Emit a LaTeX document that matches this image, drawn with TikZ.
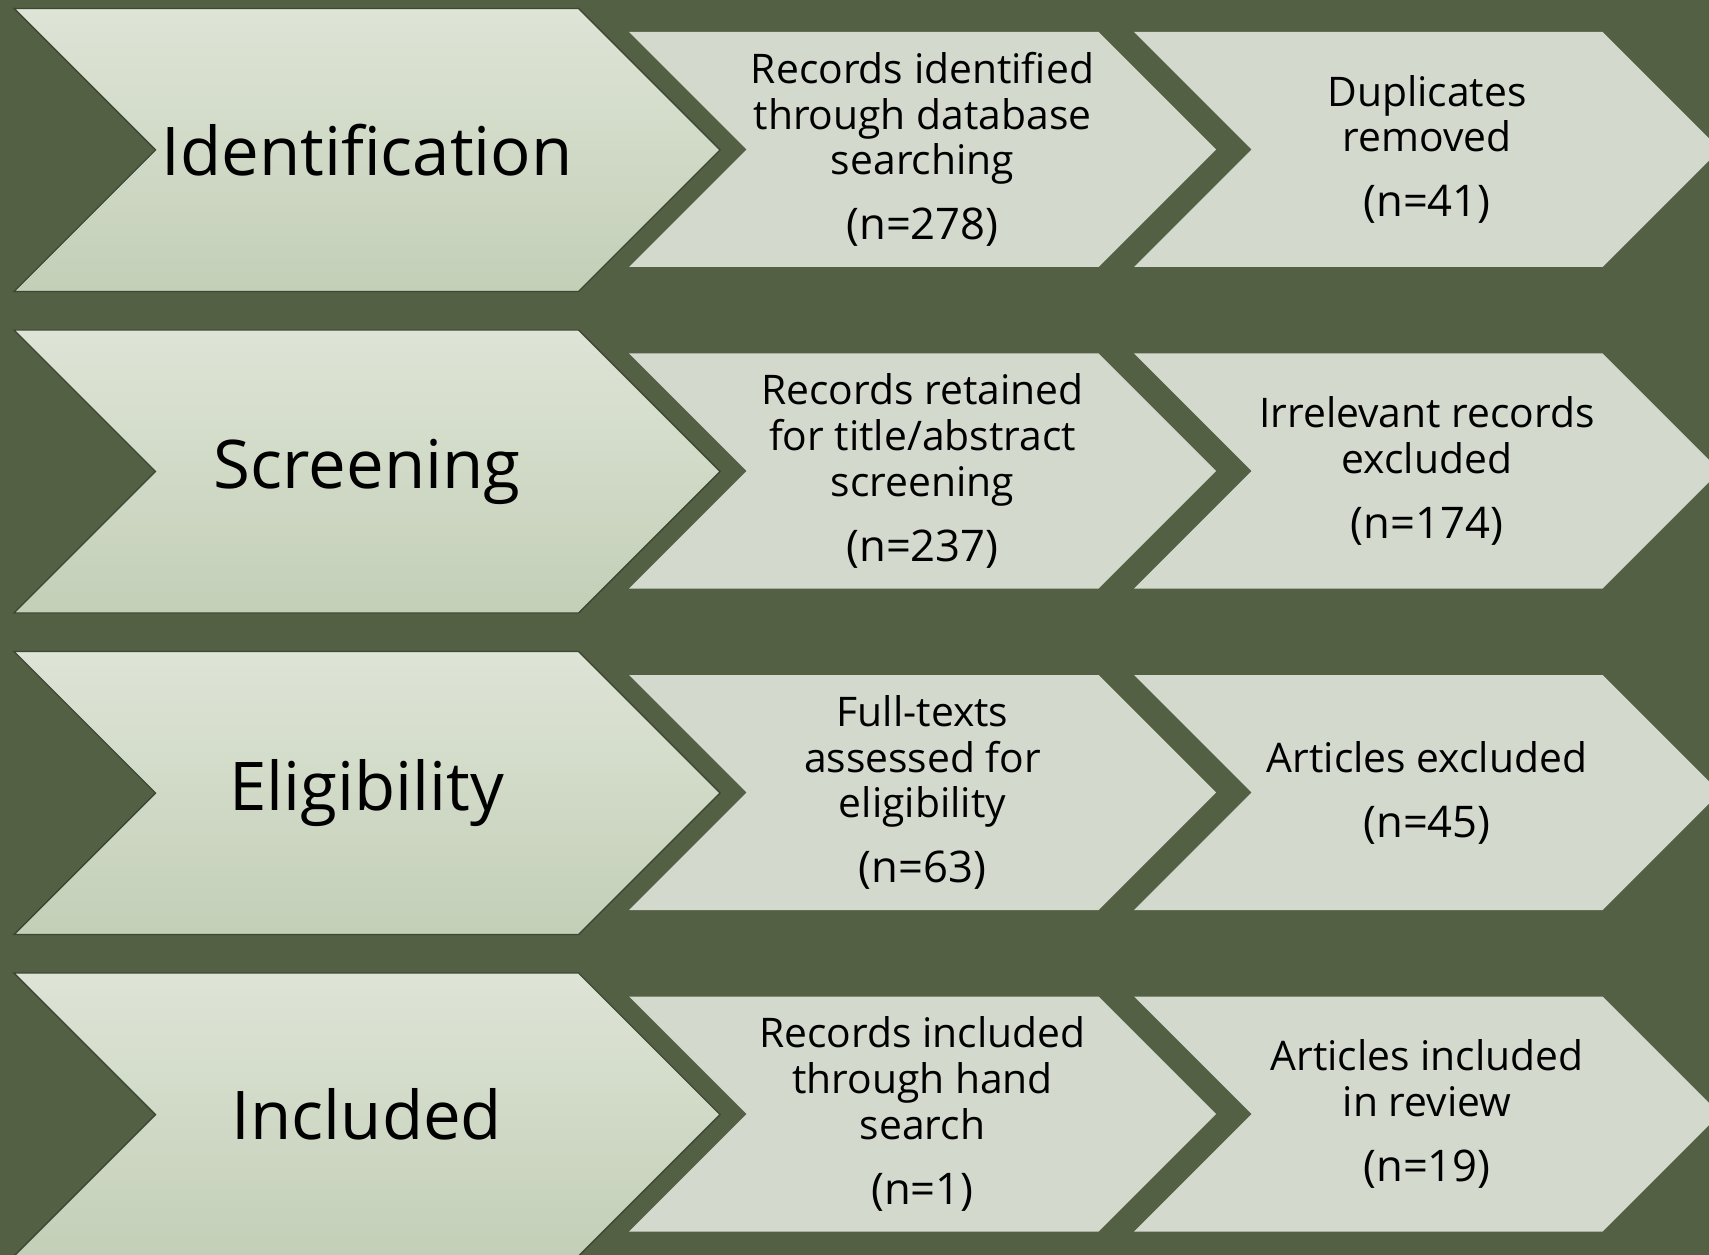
\documentclass[tikz,border=0pt]{standalone}
\usepackage{fontspec}
\setmainfont{Open Sans}

\definecolor{bggreen}{RGB}{83,96,67}
\definecolor{chevtop}{RGB}{222,228,214}
\definecolor{chevbot}{RGB}{195,207,183}
\definecolor{stepfill}{RGB}{211,217,205}
\definecolor{chevline}{RGB}{62,70,52}

\newcommand{\nsize}{\fontsize{12.4}{13}\selectfont}

% chevron: kind, name, x, y, width, height, text
\newcommand{\chev}[7]{%
  \path[#1 shape] (#3,#4) -- ++({#5-#6/2},0) -- ++({#6/2},{#6/2})
    -- ++({-#6/2},{#6/2}) -- ++({-#5+#6/2},0) -- ++({#6/2},{-#6/2}) -- cycle;
  \node[#1 text] (#2) at ({#3+#5/2},{#4+#6/2}) {#7};
}

\tikzset{
  phase shape/.style={top color=chevtop, bottom color=chevbot, draw=chevline, line width=0.4pt},
  phase text/.style={font=\fontsize{19.1}{23}\selectfont, inner sep=0pt},
  step shape/.style={fill=stepfill},
  step text/.style={font=\fontsize{11.6}{13}\selectfont, align=center, inner sep=0pt},
}

\begin{document}
\begin{tikzpicture}[x=0.01cm, y=-0.01cm]
  \useasboundingbox (0,0) rectangle (1709,1255);
  \clip (0,0) rectangle (1709,1255);
  \fill[bggreen] (0,0) rectangle (1709,1255);

  % Identification
  \chev{phase}{ident}{14}{8.5}{706}{283}{Identification}
  \chev{step}{identrec}{629}{32}{587}{235}{Records identified\\through database\\searching\\[5.5pt]\nsize(n=278)}
  \chev{step}{identdup}{1134}{32}{586}{235}{Duplicates\\removed\\[5.5pt]\nsize(n=41)}

  % Screening
  \chev{phase}{screen}{14}{330}{706}{283}{Screening}
  \chev{step}{screenrec}{629}{353.5}{587}{235}{Records retained\\for title/abstract\\screening\\[5.5pt]\nsize(n=237)}
  \chev{step}{screenexcl}{1134}{353.5}{586}{235}{Irrelevant records\\excluded\\[5.5pt]\nsize(n=174)}

  % Eligibility
  \chev{phase}{elig}{14}{651.5}{706}{283}{Eligibility}
  \chev{step}{eligfull}{629}{675}{587}{235}{Full-texts\\assessed for\\eligibility\\[5.5pt]\nsize(n=63)}
  \chev{step}{eligexcl}{1134}{675}{586}{235}{Articles excluded\\[5.5pt]\nsize(n=45)}

  % Included
  \chev{phase}{incl}{14}{973}{706}{283}{Included}
  \chev{step}{inclhand}{629}{996.5}{587}{235}{Records included\\through hand\\search\\[5.5pt]\nsize(n=1)}
  \chev{step}{inclrev}{1134}{996.5}{586}{235}{Articles included\\in review\\[5.5pt]\nsize(n=19)}
\end{tikzpicture}
\end{document}
